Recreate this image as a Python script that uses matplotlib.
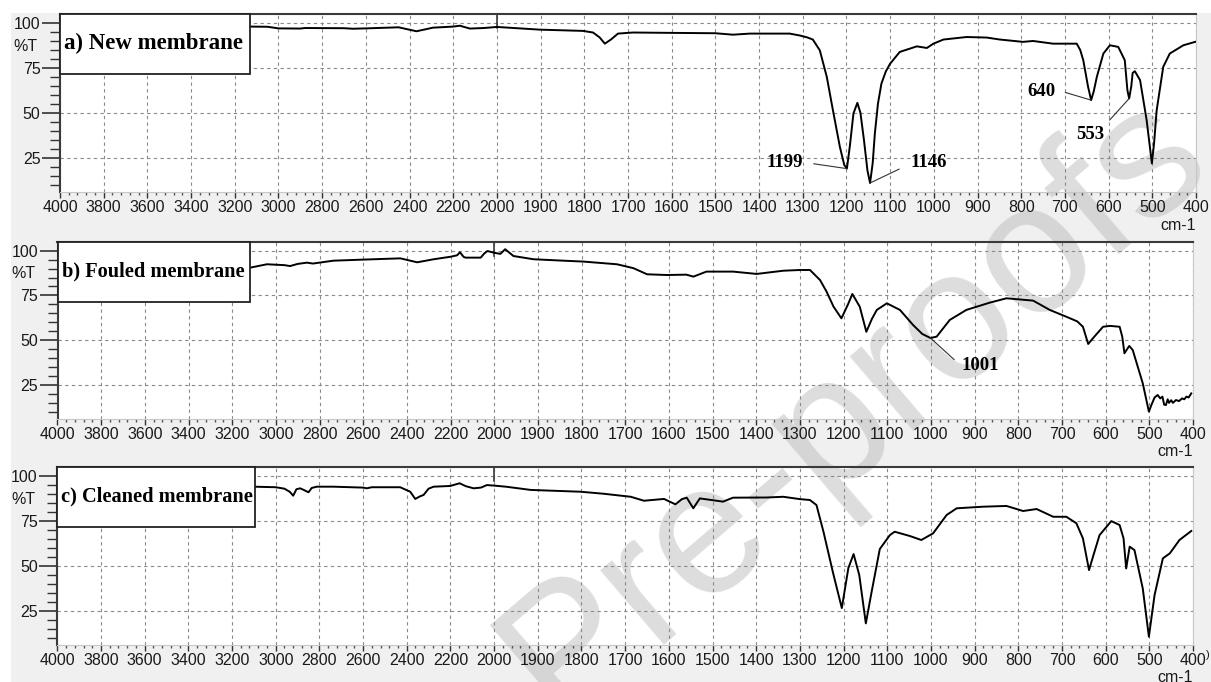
import numpy as np
import matplotlib
matplotlib.use('Agg')
from matplotlib import pyplot as plt
from matplotlib.patches import Rectangle
from matplotlib.ticker import FixedLocator, FuncFormatter

# FTIR spectra, %T against wavenumber (cm-1)
wn_new = [4000, 3600, 3200, 3130, 3050, 3000, 2900, 2880, 2700, 2660, 2600, 2450,
          2368, 2293, 2200, 2170, 2124, 2060, 2000, 1902, 1803, 1780, 1765, 1753,
          1738, 1723, 1689, 1600, 1500, 1460, 1421, 1330, 1306, 1290, 1277, 1261,
          1245, 1231, 1215, 1205, 1199, 1192, 1184, 1175, 1168, 1160, 1152, 1146,
          1140, 1135, 1128, 1120, 1110, 1100, 1078, 1039, 1016, 1001, 978, 925,
          879, 849, 796, 773, 727, 673, 665, 658, 647, 640, 634, 627, 612, 597,
          578, 563, 557, 553, 548, 545, 540, 528, 513, 505, 501, 496, 490, 475,
          460, 429, 402]
t_new = [97.5, 97.5, 97.4, 98.0, 97.9, 97.0, 96.9, 97.2, 97.1, 96.8, 97.0, 97.6,
         95.4, 97.4, 98.0, 98.5, 96.9, 97.2, 97.8, 96.3, 95.6, 94.7, 92.0, 88.5,
         91.0, 94.1, 94.7, 94.5, 94.3, 93.5, 94.1, 94.1, 93.0, 92.0, 90.8, 84.8,
         70.0, 51.5, 31.0, 21.0, 19.0, 32.0, 49.7, 55.6, 50.0, 35.0, 18.0, 11.0,
         22.0, 38.6, 55.0, 66.3, 73.0, 77.4, 83.9, 87.0, 86.1, 88.5, 90.8, 92.2,
         91.9, 90.8, 89.5, 90.0, 88.5, 88.5, 85.0, 79.3, 64.5, 57.1, 62.0, 70.0,
         83.0, 87.6, 86.7, 79.3, 62.6, 58.0, 65.0, 72.2, 73.2, 68.2, 46.0, 30.0,
         21.9, 33.0, 51.5, 75.6, 83.0, 87.6, 89.5]

wn_fouled = [4000, 3500, 3130, 3041, 2960, 2935, 2900, 2858, 2830, 2737, 2600, 2430,
             2353, 2277, 2200, 2170, 2157, 2140, 2131, 2062, 2045, 2031, 2000, 1986,
             1975, 1956, 1910, 1850, 1796, 1719, 1681, 1650, 1605, 1560, 1544, 1514,
             1453, 1399, 1338, 1300, 1277, 1254, 1239, 1223, 1205, 1190, 1180, 1163,
             1148, 1135, 1124, 1101, 1071, 1041, 1020, 1001, 987, 957, 919, 865, 827,
             766, 728, 690, 665, 652, 640, 629, 606, 590, 568, 562, 557, 546, 538,
             515, 501, 495, 488, 481, 475, 470, 466, 462, 458, 455, 450, 446, 439,
             432, 425, 420, 415, 410, 404]
t_fouled = [86.5, 88.0, 90.2, 92.4, 91.9, 91.4, 92.6, 93.3, 92.8, 94.4, 95.0, 95.7,
            93.5, 95.2, 96.6, 97.4, 99.1, 96.5, 96.1, 96.1, 98.5, 99.8, 98.8, 98.2,
            100.8, 97.0, 95.2, 94.5, 93.9, 92.4, 90.2, 86.8, 86.4, 86.6, 85.5, 88.3,
            88.3, 87.0, 88.8, 89.2, 89.2, 83.6, 77.1, 68.7, 62.2, 70.0, 75.8, 68.7,
            54.7, 62.0, 66.9, 70.6, 66.9, 58.5, 53.5, 51.2, 52.0, 61.3, 66.9, 71.0, 73.4,
            72.1, 66.9, 63.1, 60.5, 57.5, 47.9, 51.1, 57.5, 58.0, 57.5, 52.0, 42.7, 46.8, 44.5,
            25.9, 10.1, 14.0, 18.0, 19.4, 17.5, 18.5, 14.0, 13.8, 17.0, 15.0, 16.5, 15.0, 16.6,
            16.0, 17.5, 17.0, 18.5, 18.0, 20.3]

wn_cleaned = [4000, 3500, 3100, 3000, 2960, 2935, 2920, 2905, 2888, 2870, 2850, 2835,
              2812, 2736, 2600, 2583, 2560, 2430, 2384, 2361, 2340, 2323, 2300, 2277,
              2201, 2158, 2130, 2094, 2060, 2033, 2000, 1973, 1916, 1802, 1750, 1687,
              1657, 1611, 1585, 1570, 1559, 1544, 1529, 1476, 1453, 1376, 1338, 1300,
              1277, 1262, 1246, 1224, 1204, 1189, 1177, 1164, 1149, 1136, 1117, 1094,
              1083, 1048, 1022, 995, 964, 941, 880, 827, 789, 758, 720, 690, 667, 652,
              638, 629, 614, 587, 568, 559, 553, 545, 534, 515, 501, 488, 469, 453,
              431, 404]
t_cleaned = [93.5, 93.5, 93.9, 93.6, 92.8, 91.0, 88.9, 92.5, 93.0, 92.0, 90.8, 93.2,
             93.9, 93.9, 93.4, 93.0, 93.6, 93.6, 91.1, 87.1, 88.5, 89.3, 92.8, 93.9,
             94.3, 95.8, 94.2, 93.0, 93.4, 94.8, 94.5, 93.9, 92.1, 91.1, 90.0, 88.3,
             86.1, 87.1, 84.1, 87.0, 87.8, 81.9, 87.4, 85.6, 87.8, 87.9, 88.3, 87.0,
             86.5, 83.7, 68.9, 46.0, 26.5, 48.7, 56.5, 44.8, 18.0, 35.2, 59.3, 67.0,
             68.9, 66.5, 64.3, 68.0, 78.2, 81.9, 82.8, 83.2, 80.4, 81.5, 77.2, 77.2, 73.6, 65.2,
             47.6, 55.0, 67.0, 74.8, 72.6, 65.2, 48.5, 60.6, 58.7, 37.4, 10.6, 33.7, 54.1, 56.9,
             64.3, 69.3]

titles = ['a) New membrane', 'b) Fouled membrane', 'c) Cleaned membrane']
peaks_new = [1199, 1146, 640, 553]
peaks_fouled = [1001]

major_x = list(range(4000, 1999, -200)) + list(range(1900, 399, -100))
minor_x = [v for v in range(4000, 2000, -40) if v % 200] + [v for v in range(2000, 400, -20) if v % 100]


def fwd(x):
    # 4000-2000 is drawn at half the scale of 2000-400
    x = np.asarray(x, dtype=float)
    return np.where(x > 2000, 2000 + (x - 2000) / 2, x)


def inv(t):
    t = np.asarray(t, dtype=float)
    return np.where(t > 2000, 2000 + (t - 2000) * 2, t)


W, H = 1211, 682
fig = plt.figure(figsize=(W / 100, H / 100), dpi=100, facecolor='#f0f0f0')
fig.add_artist(Rectangle((0, 1 - 13 / H), 1, 13 / H, transform=fig.transFigure,
                         facecolor='white', edgecolor='none', zorder=-3))
fig.add_artist(Rectangle((0, 0), 11 / W, 1, transform=fig.transFigure,
                         facecolor='white', edgecolor='none', zorder=-3))

# pixel boxes of the three panels: left, top, right, bottom
boxes = [(60, 14, 1196, 192), (57.5, 241.7, 1193, 419), (57.3, 466.7, 1193, 645)]
label_w = [190, 192, 198]
label_size = [16.5, 14.7, 14.7]
series = [(wn_new, t_new), (wn_fouled, t_fouled), (wn_cleaned, t_cleaned)]

sans = 'Liberation Sans'
serif = 'Liberation Serif'
axes = []
for i, (l, t, r, b) in enumerate(boxes):
    ax = fig.add_axes([l / W, 1 - b / H, (r - l) / W, (b - t) / H])
    ax.set_facecolor('none')
    fig.add_artist(Rectangle((0, 0), 1, 1, transform=ax.transAxes,
                             facecolor='white', edgecolor='none', zorder=-2))
    wn, tr = series[i]
    ax.plot(wn, tr, color='black', lw=1.4, zorder=3)

    ax.set_xscale('function', functions=(fwd, inv))
    ax.set_xlim(4000, 400)
    ax.set_ylim(6, 105)
    ax.xaxis.set_major_locator(FixedLocator(major_x))
    ax.xaxis.set_minor_locator(FixedLocator(minor_x))
    ax.xaxis.set_major_formatter(FuncFormatter(lambda v, p: '%d' % round(v)))
    ax.yaxis.set_major_locator(FixedLocator([25, 50, 75, 100]))
    ax.yaxis.set_minor_locator(FixedLocator([v for v in range(10, 101, 5) if v % 25]))

    ax.grid(True, which='major', color='#8a8a8a', lw=0.8, ls=(0, (3, 3)))
    ax.tick_params(axis='x', which='major', length=4, width=1, color='#333333',
                   labelsize=11.5, labelcolor='#1a1a1a', pad=2)
    ax.tick_params(axis='x', which='minor', length=2, width=1, color='#555555')
    ax.tick_params(axis='y', which='major', length=13, width=1.2, color='#333333',
                   labelsize=11.5, labelcolor='#1a1a1a', pad=1)
    ax.tick_params(axis='y', which='minor', length=7, width=1, color='#333333')
    for lab in ax.get_xticklabels() + ax.get_yticklabels():
        lab.set_family(sans)

    ax.spines['top'].set_color('#3a3a3a')
    ax.spines['top'].set_linewidth(1.5)
    ax.spines['left'].set_color('#3a3a3a')
    ax.spines['left'].set_linewidth(1.5)
    ax.spines['bottom'].set_color('#c8c8c8')
    ax.spines['right'].set_color('#c8c8c8')

    ax.axvline(2000, ymin=0.92, ymax=1, color='#3a3a3a', lw=1.2, zorder=2)

    ax.text(-0.03, 87, '%T', transform=ax.get_yaxis_transform(), ha='center',
            va='center', fontsize=11.5, family=sans, color='#1a1a1a')
    ax.text(1.0, -(34 if i == 0 else 33) / (b - t), 'cm-1', transform=ax.transAxes,
            ha='right', va='center', fontsize=11.5, family=sans, color='#1a1a1a')

    bw = label_w[i] / (r - l)
    bh = 60 / (b - t)
    ax.add_patch(Rectangle((0, 1 - bh), bw, bh, transform=ax.transAxes,
                           facecolor='white', edgecolor='#222222', lw=1.3, zorder=5,
                           clip_on=False))
    ax.text(4 / (r - l), 1 - 29.5 / (b - t), titles[i], transform=ax.transAxes,
            ha='left', va='center', fontsize=label_size[i], family=serif,
            weight='bold', zorder=6)
    axes.append(ax)


def t_at(wn, tr, x):
    return tr[list(wn).index(x)]


# band assignments on the new membrane
ax = axes[0]
ann = dict(fontsize=13.5, family=serif, weight='bold', zorder=6)
pos_new = {1199: ((1342, 22.6), (1, 0.5), 6),
           1146: ((1011, 22.3), (0, 0.45), 7),
           640: ((753, 62.0), (1, 0.6), 5),
           553: ((642, 38.0), (1, 1.0), 3)}
for p in peaks_new:
    xt, rel, sh = pos_new[p]
    ax.annotate(str(p), xy=(p, t_at(wn_new, t_new, p)), xytext=xt, ha='center',
                va='center', arrowprops=dict(arrowstyle='-', color='#333333', lw=0.8,
                                             relpos=rel, shrinkA=sh, shrinkB=0), **ann)

ax = axes[1]
for p in peaks_fouled:
    ax.annotate(str(p), xy=(p, t_at(wn_fouled, t_fouled, p)), xytext=(888, 35.6),
                ha='center', va='center',
                arrowprops=dict(arrowstyle='-', color='#333333', lw=0.8,
                                relpos=(0, 0.5), shrinkA=4, shrinkB=0), **ann)

fig.text(1208 / W, 1 - 655 / H, ')', fontsize=8, family=sans, ha='center',
         va='center', color='#1a1a1a')

# journal watermark, kept beneath the spectra
fig.text(855 / W, 1 - 405 / H, 'Pre-proofs', rotation=40.6, fontsize=133, family=sans,
         color='#b4b4b4', alpha=0.45, ha='center', va='center', zorder=-1)

plt.savefig('out.png', dpi=100, facecolor=fig.get_facecolor())
